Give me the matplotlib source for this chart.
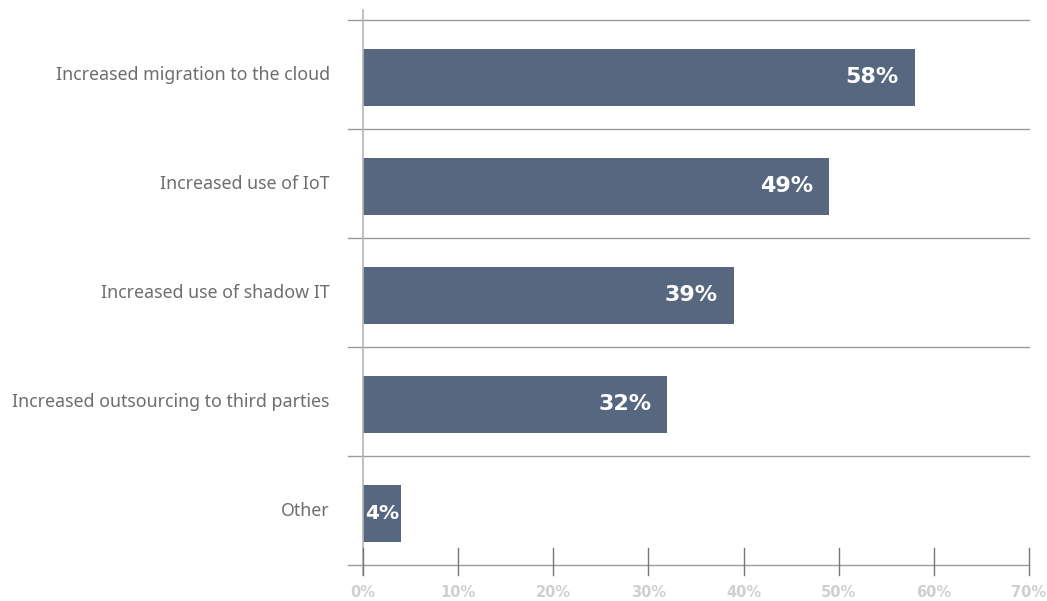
import matplotlib.pyplot as plt
import matplotlib.transforms as mtransforms

categories = [
    "Increased migration to the cloud",
    "Increased use of IoT",
    "Increased use of shadow IT",
    "Increased outsourcing to third parties",
    "Other",
]
values = [58, 49, 39, 32, 4]
xticks = [0, 10, 20, 30, 40, 50, 60, 70]

bar_color = "#56677f"
line_color = "#9b9b9b"

plt.rcParams["font.family"] = ["Noto Sans", "DejaVu Sans"]
bold_font = ["DejaVu Sans"]

fig = plt.figure(figsize=(10.47, 6.01), dpi=100)
ax = fig.add_axes([0.3467, 0.0599, 0.6361, 0.9068])

n = len(categories)
ypos = [i + 0.025 for i in range(n)]
ax.barh(ypos, values, height=0.52, color=bar_color, zorder=2)
ax.set_xlim(0, 70)
ax.set_ylim(n - 0.5, -0.5)

for s in ax.spines.values():
    s.set_visible(False)
ax.set_xticks([])
ax.set_yticks([])

# band separators, extending a little past the left edge
blend = mtransforms.blended_transform_factory(ax.transAxes, ax.transData)
for b in range(n + 1):
    ax.plot([-0.023, 1.0], [b - 0.5, b - 0.5], color=line_color, lw=1,
            transform=blend, clip_on=False, zorder=1)

# left axis line
ax.plot([0, 0], [-0.018, 1.018], color="#b5b5b5", lw=1.2,
        transform=ax.transAxes, clip_on=False, zorder=3)

# bottom ticks and tick labels
blend_x = mtransforms.blended_transform_factory(ax.transData, ax.transAxes)
for t in xticks:
    ax.plot([t, t], [-0.018, 0.031], color="#777777", lw=1,
            transform=blend_x, clip_on=False, zorder=3)
    ax.text(t, -0.05, f"{t}%", transform=blend_x, ha="center", va="center",
            fontsize=10.5, fontweight="bold", color="#cfcfcf", family=bold_font)

# category labels
for y, c in zip(range(n), categories):
    ax.text(-0.05, y, c, transform=blend, ha="right", va="center",
            fontsize=12.8, color="#6e6e6e")

# value labels inside bars (short bars get a centred, slightly smaller label)
for y, v in zip(ypos, values):
    if v < 8:
        ax.text(v / 2, y, f"{v}%", ha="center", va="center", fontsize=14.5,
                fontweight="bold", color="white", zorder=4, family=bold_font)
    else:
        ax.text(v - 1.7, y, f"{v}%", ha="right", va="center", fontsize=16,
                fontweight="bold", color="white", zorder=4, family=bold_font)

fig.savefig("out.png", dpi=100, facecolor="white")
